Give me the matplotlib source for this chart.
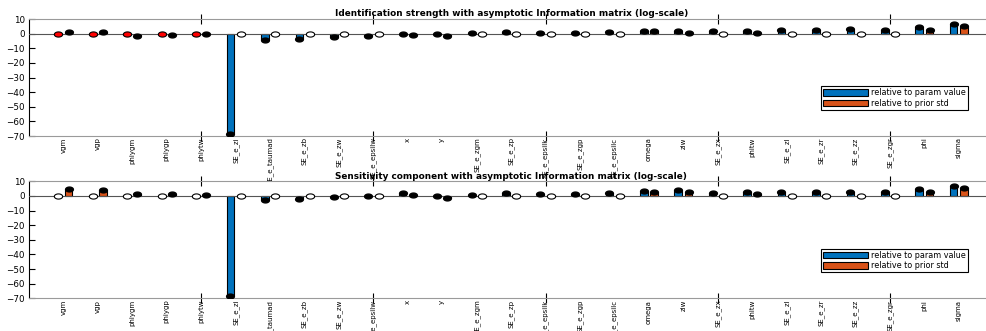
import numpy as np
import matplotlib
matplotlib.use('Agg')
import matplotlib.pyplot as plt
from matplotlib.patches import Patch
from matplotlib.path import Path

NaN = np.nan

param_names = ['vgm', 'vgp', 'phiygm', 'phiygp', 'phiytw', 'SE_e_zi', 'SE_e_taumad',
               'SE_e_zb', 'SE_e_zw', 'SE_e_epsilw', 'x', 'y', 'SE_e_zgm', 'SE_e_zp',
               'SE_e_epsilk', 'SE_e_zgp', 'SE_e_epsilc', 'omega', 'ziw', 'SE_e_zx',
               'phitw', 'SE_e_zl', 'SE_e_zr', 'SE_e_zz', 'SE_e_zgr', 'phi', 'sigma']

# identification strength (log-scale)
ide_param = [NaN, NaN, NaN, NaN, NaN, -68.4, -4.1, -3.8, -2.3, -1.9, -0.3, 0.0, 0.5, 0.8,
             0.5, 0.5, 1.0, 2.0, 1.8, 2.0, 2.1, 2.4, 2.8, 3.0, 2.8, 4.6, 6.6]
ide_prior = [1.2, 0.8, -1.6, -1.2, 0.0, NaN, NaN, NaN, NaN, NaN, -0.9, -1.3, NaN, NaN,
             NaN, NaN, NaN, 1.5, 0.6, NaN, 0.4, NaN, NaN, NaN, NaN, 2.7, 5.2]

# sensitivity component (log-scale)
sens_param = [NaN, NaN, NaN, NaN, NaN, -68.4, -2.7, -2.2, -0.8, -0.3, 1.8, 0.0, 0.9, 2.0,
              1.5, 1.5, 1.7, 3.3, 4.2, 2.3, 2.6, 2.4, 2.5, 2.7, 2.7, 4.5, 7.0]
sens_prior = [4.5, 3.8, 1.0, 1.4, 0.5, NaN, NaN, NaN, NaN, NaN, 0.7, -1.2, NaN, NaN,
              NaN, NaN, NaN, 2.8, 2.9, NaN, 1.0, NaN, NaN, NaN, NaN, 2.6, 5.6]

titles = ['Identification strength with asymptotic Information matrix (log-scale)',
          'Sensitivity component with asymptotic Information matrix (log-scale)']
legend_labels = ['relative to param value', 'relative to prior std']

blue = '#0072BD'
orange = '#D95319'

# flattened circle used for the markers
t = np.linspace(0, 2 * np.pi, 41)
oval = Path(np.column_stack([np.cos(t), 0.62 * np.sin(t)]))


def draw_panel(ax, vals_a, vals_b, nan_face_a, nan_face_b, title):
    pos = np.arange(1, len(param_names) + 1)
    off = 0.15
    w = 0.22
    for vals, dx, col, nanface in [(vals_a, -off, blue, nan_face_a),
                                   (vals_b, off, orange, nan_face_b)]:
        v = np.array(vals, dtype=float)
        ok = ~np.isnan(v)
        ax.bar(pos[ok] + dx, v[ok], width=w, color=col, edgecolor='k',
               linewidth=0.8, zorder=2)
        ax.plot(pos[ok] + dx, v[ok], ls='none', marker=oval, ms=5.6,
                mfc='k', mec='k', zorder=4)
        ax.plot(pos[~ok] + dx, np.zeros((~ok).sum()), ls='none', marker=oval,
                ms=6, mfc=nanface, mec='k', mew=0.8, zorder=4)
    ax.axhline(0, color='#555555', lw=0.8, zorder=3)

    ax.set_xlim(0, 28)
    ax.set_ylim(-70, 10)
    ax.set_yticks(np.arange(-70, 11, 10))
    ax.xaxis.remove_overlapping_locs = False
    ax.set_xticks([5, 10, 15, 20, 25])
    ax.set_xticklabels([])
    ax.set_xticks(pos, labels=param_names, minor=True)
    ax.tick_params(axis='x', which='minor', length=0, labelrotation=90,
                   labelsize=5.0, pad=1)
    for lab in ax.get_xticklabels(minor=True):
        lab.set_va('top')
    ax.tick_params(axis='x', which='major', direction='inout', length=7,
                   top=True, color='k', width=0.8)
    ax.tick_params(axis='y', direction='in', length=4, right=True,
                   labelsize=6.3, color='k', width=0.8, pad=3)
    for s in ['top', 'right', 'bottom']:
        ax.spines[s].set_color('#9a9a9a')
        ax.spines[s].set_linewidth(0.8)
    ax.spines['left'].set_color('k')
    ax.spines['left'].set_linewidth(0.8)
    ax.set_title(title, fontsize=6.4, fontweight='bold', pad=2)

    handles = [Patch(facecolor=blue, edgecolor='k', lw=0.8),
               Patch(facecolor=orange, edgecolor='k', lw=0.8)]
    leg = ax.legend(handles, legend_labels, loc='lower right',
                    bbox_to_anchor=(0.9735, 0.225), fontsize=5.8,
                    handlelength=5.5, handleheight=0.9, handletextpad=0.4,
                    borderpad=0.25, labelspacing=0.15, borderaxespad=0,
                    fancybox=False, framealpha=1)
    leg.get_frame().set_edgecolor('k')
    leg.get_frame().set_linewidth(0.8)


fig = plt.figure(figsize=(9.86, 3.31), dpi=100)
ax1 = fig.add_axes([0.0294, 0.589, 0.978, 0.3535])
ax2 = fig.add_axes([0.0294, 0.0988, 0.978, 0.3535])

draw_panel(ax1, ide_param, ide_prior, 'red', 'white', titles[0])
draw_panel(ax2, sens_param, sens_prior, 'white', 'white', titles[1])

fig.savefig('out.png', dpi=100)
